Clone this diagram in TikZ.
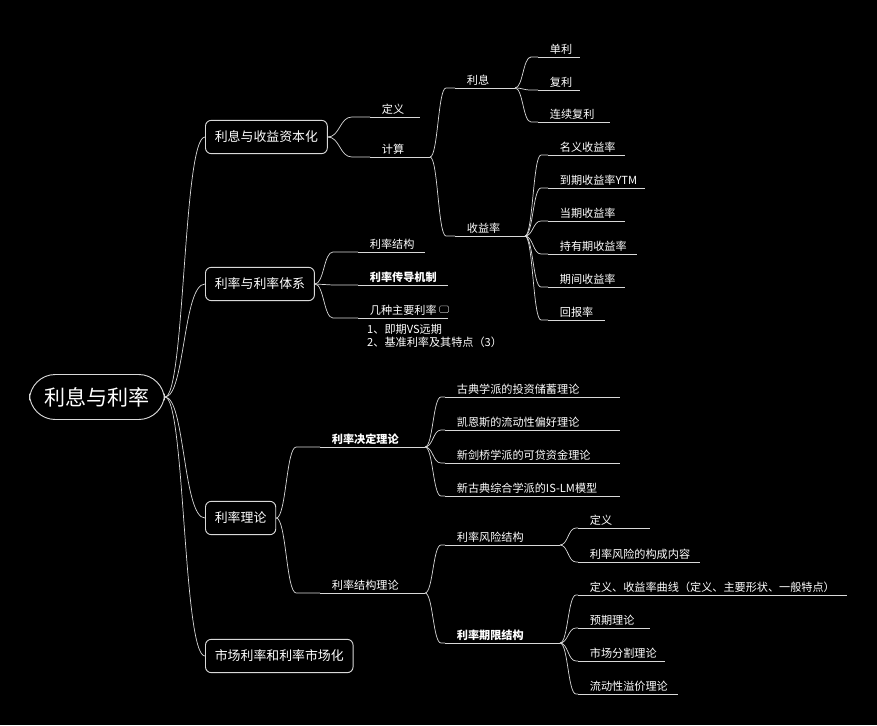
\documentclass[tikz,border=0pt]{standalone}
\usepackage{fontspec}
\setmainfont{Noto Sans CJK SC}
\usetikzlibrary{calc}
\tikzset{
  link/.style={draw=white!85!black, line width=0.6pt},
  leaf/.style={anchor=south west, text=white, inner sep=2pt, xshift=8, font=\fontsize{9.5}{11}\selectfont},
  bleaf/.style={leaf, font=\fontsize{9.5}{11}\selectfont\bfseries},
  topic/.style={draw=white!85!black, rounded corners=5pt, text=white, line width=0.8pt,
    minimum height=1cm, inner xsep=8pt, anchor=west, font=\fontsize{11}{13}\selectfont},
}
% leaf: id, x start, x end, y, style, text
\newcommand\leaf[6]{%
  \coordinate (#1-s) at (#2,#4);
  \coordinate (#1-e) at (#3,#4);
  \node[#5] (#1) at (#1-s) {#6};
  \draw[link] (#1-s) -- (#1-e);
}
% branch from parent point to child start
\newcommand\branch[3][10]{%
  \draw[link] (#2) .. controls ($(#2)+(#1,0)$) and ($(#3 -| #2)+(#1,0)$) .. ($(#3 -| #2)+(2*#1,0)$) -- (#3);
}
\begin{document}
\begin{tikzpicture}[x=0.03cm,y=-0.03cm]
\fill[black] (0,0) rectangle (877,725);
\useasboundingbox (0,0) rectangle (877,725);

\node[draw=white!85!black, rounded corners=22, line width=0.8pt, text=white,
  minimum width=135*0.03cm, minimum height=45*0.03cm, font=\fontsize{18}{20}\selectfont]
  (root) at (97,397) {利息与利率};

\node[topic] (m1) at (205,137) {利息与收益资本化};
\node[topic] (m2) at (205,284) {利率与利率体系};
\node[topic] (m3) at (205,518) {利率理论};
\node[topic] (m4) at (205,656) {市场利率和利率市场化};
\foreach \m in {m1,m2,m3,m4}
  \draw[link] (root.east) .. controls ($(root.east)+(20,0)$) and ($(\m.west)+(-22,0)$) .. (\m.west);

% 利息与收益资本化
\leaf{dy}{370}{420}{117}{leaf}{定义}
\leaf{js}{370}{430}{157}{leaf}{计算}
\branch[12]{m1.east}{dy-s}
\branch[12]{m1.east}{js-s}
\leaf{lx}{455}{515}{88}{leaf}{利息}
\leaf{syl}{455}{525}{236}{leaf}{收益率}
\branch[8]{js-e}{lx-s}
\branch[8]{js-e}{syl-s}
\leaf{dl}{538}{580}{57}{leaf}{单利}
\leaf{fl}{538}{580}{90}{leaf}{复利}
\leaf{lxfl}{538}{610}{122}{leaf}{连续复利}
\foreach \c in {dl,fl,lxfl} {\branch[8]{lx-e}{\c-s}}
\leaf{y1}{548}{625}{155}{leaf}{名义收益率}
\leaf{y2}{548}{645}{188}{leaf}{到期收益率YTM}
\leaf{y3}{548}{625}{221}{leaf}{当期收益率}
\leaf{y4}{548}{637}{254}{leaf}{持有期收益率}
\leaf{y5}{548}{625}{287}{leaf}{期间收益率}
\leaf{y6}{548}{605}{320}{leaf}{回报率}
\foreach \c in {y1,y2,y3,y4,y5,y6} {\branch[8]{syl-e}{\c-s}}

% 利率与利率体系
\leaf{ljg}{358}{425}{252}{leaf}{利率结构}
\leaf{lcd}{358}{448}{285}{bleaf}{利率传导机制}
\leaf{jz}{358}{448}{318}{leaf}{几种主要利率}
\foreach \c in {ljg,lcd,jz} {\branch[9]{m2.east}{\c-s}}
\node[draw=white!70!black, rounded corners=1pt, minimum width=0.27cm, minimum height=0.2cm,
  inner sep=0pt, anchor=west] (note) at ($(jz.east)+(0,-1)$) {};
\node[anchor=north west, text=white, align=left, inner sep=0pt,
  font=\fontsize{9.5}{11}\selectfont] (notetext) at (367,324) {1、即期VS远期\\2、基准利率及其特点（3）};

% 利率理论
\leaf{jdl}{320}{425}{447}{bleaf}{利率决定理论}
\leaf{jgl}{320}{425}{593}{leaf}{利率结构理论}
\branch[10]{m3.east}{jdl-s}
\branch[10]{m3.east}{jgl-s}
\leaf{t1}{445}{620}{397}{leaf}{古典学派的投资储蓄理论}
\leaf{t2}{445}{620}{430}{leaf}{凯恩斯的流动性偏好理论}
\leaf{t3}{445}{620}{463}{leaf}{新剑桥学派的可贷资金理论}
\leaf{t4}{445}{620}{496}{leaf}{新古典综合学派的IS-LM模型}
\foreach \c in {t1,t2,t3,t4} {\branch[8]{jdl-e}{\c-s}}
\leaf{fx}{445}{560}{545}{leaf}{利率风险结构}
\leaf{qx}{445}{560}{643}{bleaf}{利率期限结构}
\branch[8]{jgl-e}{fx-s}
\branch[8]{jgl-e}{qx-s}
\leaf{fx1}{578}{650}{528}{leaf}{定义}
\leaf{fx2}{578}{700}{562}{leaf}{利率风险的构成内容}
\branch[8]{fx-e}{fx1-s}
\branch[8]{fx-e}{fx2-s}
\leaf{q1}{578}{847}{595}{leaf}{定义、收益率曲线（定义、主要形状、一般特点）}
\leaf{q2}{578}{650}{628}{leaf}{预期理论}
\leaf{q3}{578}{665}{661}{leaf}{市场分割理论}
\leaf{q4}{578}{678}{694}{leaf}{流动性溢价理论}
\foreach \c in {q1,q2,q3,q4} {\branch[8]{qx-e}{\c-s}}
\end{tikzpicture}
\end{document}
